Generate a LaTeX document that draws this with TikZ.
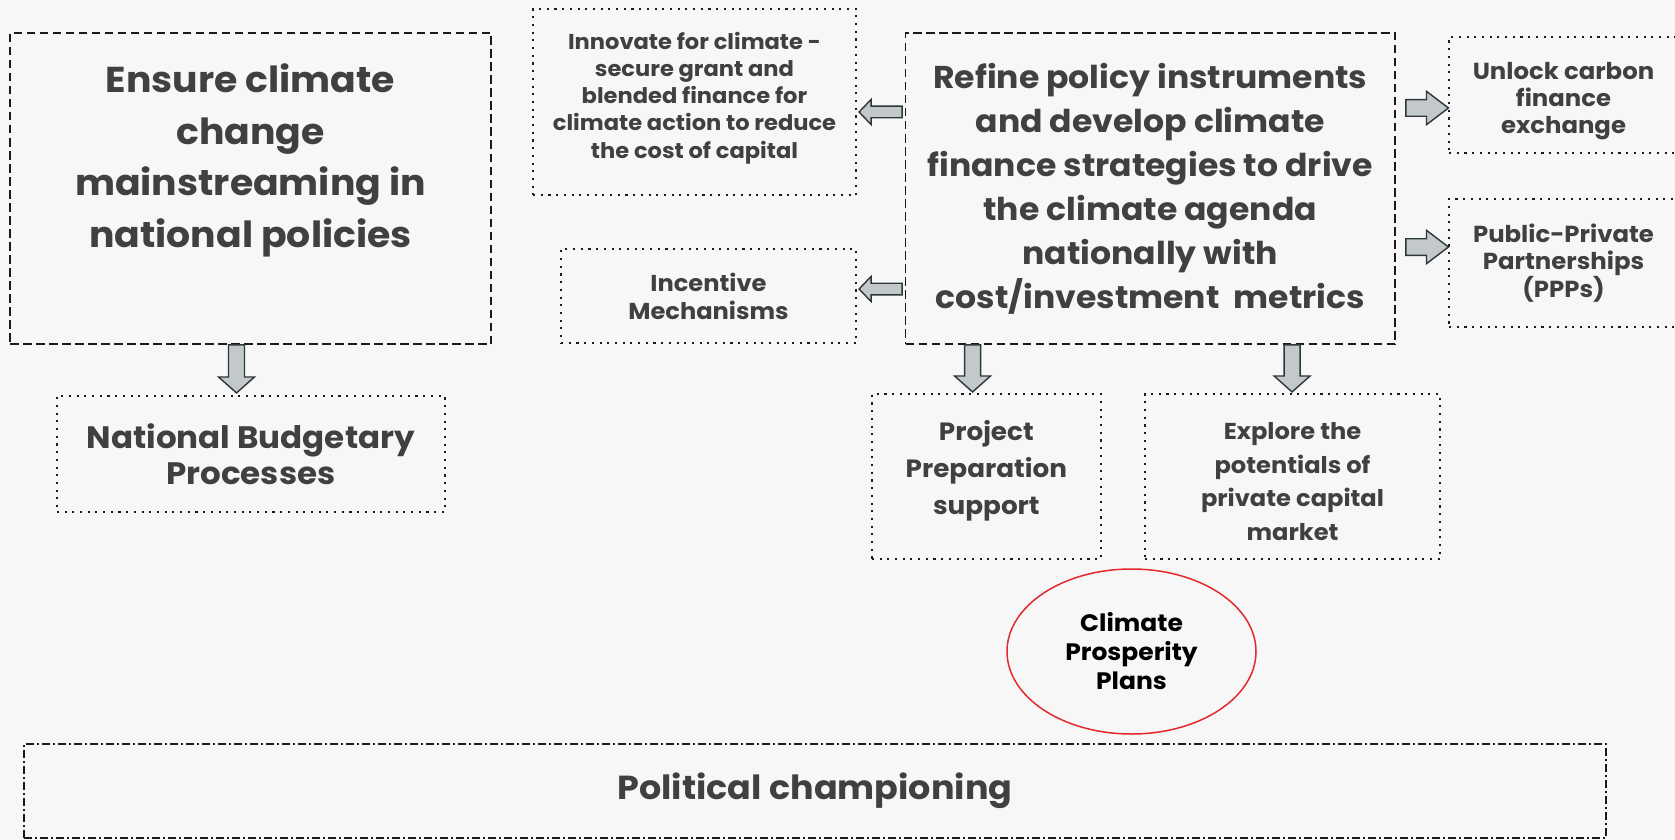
\documentclass[tikz,border=0pt]{standalone}
\usepackage{fontspec}
\setmainfont{Poppins}[FakeStretch=1.05]
\usetikzlibrary{calc,shapes.geometric}

\definecolor{bgcol}{HTML}{F7F7F7}
\definecolor{framecol}{HTML}{1A1A1A}
\definecolor{txtcol}{HTML}{404040}
\definecolor{arrowfill}{HTML}{C3C9CB}
\definecolor{arrowdraw}{HTML}{2C3739}
\definecolor{ringred}{HTML}{E3292B}

% bold text at a given size and leading (in px-sized points)
\newcommand\setfs[2]{\fontsize{#1}{#2}\selectfont\bfseries}

% block arrow from #1 (tail) to #2 (tip): shaft half-width #3, head half-width #4, head length #5
\newcommand\blockarrow[5]{%
  \draw[barrow] ($(#1)!#3!90:(#2)$)
    -- ($(#2)!#5!(#1)!#3!-90:(#1)$)
    -- ($(#2)!#5!(#1)!#4!-90:(#1)$)
    -- (#2)
    -- ($(#2)!#5!(#1)!#4!90:(#1)$)
    -- ($(#2)!#5!(#1)!#3!90:(#1)$)
    -- ($(#1)!#3!-90:(#2)$) -- cycle;}

\begin{document}
\begin{tikzpicture}[x=1pt,y=-1pt,
  frame/.style={draw=framecol, line width=1.7pt, inner sep=0pt, text=txtcol, align=center},
  dashbox/.style={frame, dash pattern=on 8.5pt off 4.5pt},
  dotbox/.style={frame, line width=2.1pt, dash pattern=on 2.1pt off 5.6pt},
  dashdotbox/.style={frame, dash pattern=on 8pt off 3pt on 2pt off 3pt},
  txt/.style={text=txtcol, align=center, inner sep=0pt},
  barrow/.style={fill=arrowfill, draw=arrowdraw, line width=1.4pt, line join=miter}]

\fill[bgcol] (0,0) rectangle (1675,840);
\useasboundingbox (0,0) rectangle (1675,840);

% left column
\node[dashbox, minimum width=481pt, minimum height=311pt] (ensure) at (250.5,188.5) {};
\node[txt, font=\setfs{36}{51.5}] (ensuretext) at ($(ensure.center)+(0,-28)$)
  {Ensure climate\\change\\mainstreaming in\\national policies};
\node[dotbox, minimum width=388pt, minimum height=116pt, font=\setfs{31}{36}] (budget) at (250.8,454)
  {National Budgetary\\Processes};

% middle column
\node[dotbox, minimum width=323pt, minimum height=186pt] (innov) at (694.5,102) {};
\node[txt, font=\setfs{21.5}{27.2}] (innovtext) at ($(innov.center)+(0,-4)$)
  {Innovate for climate -\\secure grant and\\blended finance for\\climate action to reduce\\the cost of capital};
\node[dotbox, minimum width=295pt, minimum height=94pt, font=\setfs{23}{28}] (incent) at (708.5,296)
  {Incentive\\Mechanisms};

% central strategy box
\node[dashbox, minimum width=489.5pt, minimum height=311pt, font=\setfs{31.5}{44}] (main) at (1150.25,188.5)
  {Refine policy instruments\\and develop climate\\finance strategies to drive\\the climate agenda\\nationally with\\cost/investment\ \ metrics};

% right column
\node[dotbox, minimum width=229pt, minimum height=116pt] (unlock) at (1563.5,95) {};
\node[txt, font=\setfs{23.2}{27}] (unlocktext) at ($(unlock.center)+(0,6)$)
  {Unlock carbon\\finance\\exchange};
\node[dotbox, minimum width=229pt, minimum height=128pt, font=\setfs{23.2}{27.5}] (ppp) at (1563.5,263)
  {Public-Private\\Partnerships\\(PPPs)};

% lower row
\node[dotbox, minimum width=229pt, minimum height=165pt] (project) at (986.3,476.5) {};
\node[txt, font=\setfs{25}{37}] (projecttext) at ($(project.center)+(0,-5.5)$)
  {Project\\Preparation\\support};
\node[dotbox, minimum width=295pt, minimum height=165pt] (explore) at (1292.5,476.5) {};
\node[txt, font=\setfs{23}{33.5}] (exploretext) at ($(explore.center)+(0,5)$)
  {Explore the\\potentials of\\private capital\\market};
\node[ellipse, draw=ringred, line width=1.5pt, minimum width=249pt, minimum height=165pt, inner sep=0pt,
  text=black, align=center, font=\setfs{23.8}{29}] (cpp) at (1131.5,651.5)
  {Climate\\Prosperity\\Plans};

\node[dashdotbox, minimum width=1582pt, minimum height=94pt, font=\setfs{33.3}{40}] (polit) at (815,791)
  {Political championing};

% arrow end points
\coordinate (l1t) at ($(innov.east)+(2,10)$);
\coordinate (l1s) at ($(main.west |- l1t)+(-2.5,0)$);
\coordinate (l2t) at ($(incent.east)+(2,-7)$);
\coordinate (l2s) at ($(main.west |- l2t)+(-2.5,0)$);
\coordinate (r1t) at ($(unlock.west)+(0.5,13)$);
\coordinate (r1s) at ($(main.east |- r1t)+(10,0)$);
\coordinate (r2t) at ($(ppp.west)+(0.5,-16)$);
\coordinate (r2s) at ($(main.east |- r2t)+(10,0)$);
\coordinate (d1s) at ($(ensure.south)+(-14,0)$);
\coordinate (d1t) at ($(d1s |- budget.north)+(0,-2)$);
\coordinate (d2s) at ($(main.south)+(-177.7,0)$);
\coordinate (d2t) at ($(d2s |- project.north)+(0,-1)$);
\coordinate (d3s) at ($(main.south)+(141.8,0)$);
\coordinate (d3t) at ($(d3s |- explore.north)+(0,-1)$);

\blockarrow{l1s}{l1t}{5.8pt}{12.5pt}{12pt}
\blockarrow{l2s}{l2t}{5.8pt}{12.5pt}{12pt}
\blockarrow{r1s}{r1t}{8.3pt}{16.7pt}{22pt}
\blockarrow{r2s}{r2t}{8.3pt}{16.7pt}{22pt}
\blockarrow{d1s}{d1t}{8pt}{18pt}{16pt}
\blockarrow{d2s}{d2t}{8pt}{18pt}{16pt}
\blockarrow{d3s}{d3t}{8pt}{18pt}{16pt}

\end{tikzpicture}
\end{document}
